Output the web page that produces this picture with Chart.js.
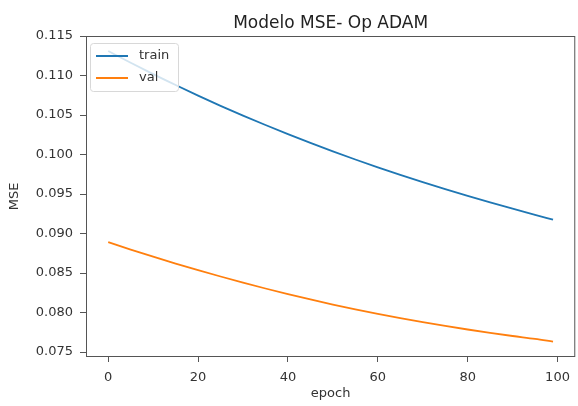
<!DOCTYPE html>
<html>
<head>
<meta charset="utf-8">
<script src="https://cdn.jsdelivr.net/npm/chart.js@4"></script>
<style>
  html, body { margin: 0; padding: 0; background: #fff; }
  #wrap { width: 578px; height: 406px; }
</style>
</head>
<body>
<div id="wrap"><canvas id="lossChart" width="578" height="406"></canvas></div>
<script>
var chartTitle = "Modelo MSE- Op ADAM";
var epochs = [0, 5, 10, 15, 20, 25, 30, 35, 40, 45, 50, 55, 60, 65, 70, 75, 80, 85, 90, 95, 99];
var trainMse = [0.11310, 0.11161, 0.11017, 0.10879, 0.10745, 0.10616, 0.10492, 0.10373, 0.10258, 0.10147, 0.10040,
                0.09937, 0.09838, 0.09742, 0.09650, 0.09561, 0.09476, 0.09393, 0.09314, 0.09237, 0.09175];
var valMse = [0.08890, 0.08797, 0.08707, 0.08620, 0.08536, 0.08456, 0.08378, 0.08304, 0.08233, 0.08165, 0.08100,
              0.08040, 0.07983, 0.07929, 0.07878, 0.07830, 0.07785, 0.07743, 0.07703, 0.07666, 0.07632];
var yTicks = [0.075, 0.080, 0.085, 0.090, 0.095, 0.100, 0.105, 0.110, 0.115];
var xTicks = [0, 20, 40, 60, 80, 100];

var FONT = "DejaVu Sans";
var INK = "#333";

function toPoints(xs, ys) {
    return xs.map(function(x, i) { return { x: x, y: ys[i] }; });
}

// frame, title and legend drawn inside the plot like matplotlib
var decorations = {
    id: "decorations",
    afterDraw: function(chart) {
        var ctx = chart.ctx;
        var a = chart.chartArea;
        ctx.save();
        ctx.strokeStyle = "#555";
        ctx.lineWidth = 1;
        ctx.strokeRect(a.left + 0.5, a.top + 0.5, a.right - a.left - 1, a.bottom - a.top - 1);

        ctx.fillStyle = "#222";
        ctx.font = "17px " + FONT;
        ctx.textAlign = "center";
        ctx.textBaseline = "alphabetic";
        ctx.fillText(chartTitle, (a.left + a.right) / 2, 28);

        var bx = a.left + 4, by = a.top + 7, bw = 88, bh = 48;
        ctx.fillStyle = "rgba(255,255,255,0.8)";
        ctx.strokeStyle = "#d8d8d8";
        ctx.beginPath();
        ctx.roundRect(bx + 0.5, by + 0.5, bw, bh, 3);
        ctx.fill();
        ctx.stroke();

        ctx.font = "13px " + FONT;
        ctx.textAlign = "left";
        ctx.textBaseline = "middle";
        chart.data.datasets.forEach(function(ds, i) {
            var ly = by + 13 + i * 22;
            ctx.strokeStyle = ds.borderColor;
            ctx.lineWidth = 2;
            ctx.beginPath();
            ctx.moveTo(bx + 6, ly);
            ctx.lineTo(bx + 38, ly);
            ctx.stroke();
            ctx.fillStyle = INK;
            ctx.fillText(ds.label, bx + 49, ly);
        });
        ctx.restore();
    }
};

var ctx1 = document.getElementById("lossChart").getContext("2d");
var lossChart = new Chart(ctx1, {
    type: "line",
    data: {
        datasets: [{
            label: "train",
            data: toPoints(epochs, trainMse),
            borderColor: "#1f77b4",
            borderWidth: 1.8,
            pointRadius: 0,
            cubicInterpolationMode: "monotone",
            fill: false
        }, {
            label: "val",
            data: toPoints(epochs, valMse),
            borderColor: "#ff7f0e",
            borderWidth: 1.8,
            pointRadius: 0,
            cubicInterpolationMode: "monotone",
            fill: false
        }]
    },
    options: {
        responsive: false,
        animation: false,
        layout: { padding: { top: 36, right: 2, left: 0, bottom: 0 } },
        plugins: {
            legend: { display: false },
            title: { display: false },
            tooltip: { enabled: false }
        },
        scales: {
            x: {
                type: "linear",
                min: -4.95,
                max: 103.95,
                afterBuildTicks: function(scale) {
                    scale.ticks = xTicks.map(function(v) { return { value: v }; });
                },
                afterFit: function(scale) { scale.height = 49; },
                ticks: { color: INK, font: { family: FONT, size: 13 }, padding: 8, maxRotation: 0,
                         callback: function(v) { return String(v); } },
                grid: { drawOnChartArea: false, drawTicks: true, tickLength: 5, color: "#555" },
                border: { display: false },
                title: { display: true, text: "epoch", color: INK, font: { family: FONT, size: 13 },
                         padding: { top: 0, bottom: 5 } }
            },
            y: {
                type: "linear",
                min: 0.07437,
                max: 0.115,
                afterBuildTicks: function(scale) {
                    scale.ticks = yTicks.map(function(v) { return { value: v }; });
                },
                afterFit: function(scale) { scale.width = 86; },
                ticks: { color: INK, font: { family: FONT, size: 13 }, padding: 7,
                         callback: function(v) { return v.toFixed(3); } },
                grid: { drawOnChartArea: false, drawTicks: true, tickLength: 6, color: "#555" },
                border: { display: false },
                title: { display: true, text: "MSE", color: INK, font: { family: FONT, size: 13 },
                         padding: { top: 7, bottom: 0 } }
            }
        }
    },
    plugins: [decorations]
});
</script>
</body>
</html>
